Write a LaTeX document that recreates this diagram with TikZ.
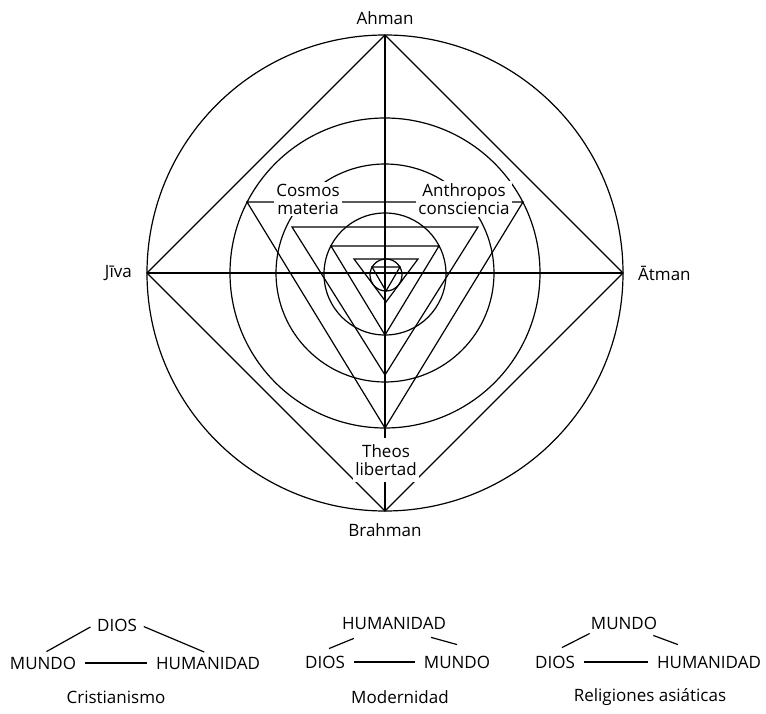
\documentclass[tikz,border=0pt]{standalone}
\usepackage{fontspec}
\setmainfont{Open Sans}
\usetikzlibrary{positioning}

\begin{document}
\begin{tikzpicture}[
  x=1pt, y=-1pt,
  geo/.style={line width=1.2pt},
  lbl/.style={font=\fontsize{17}{18}\selectfont, inner sep=2pt},
  inlbl/.style={lbl, fill=white, align=center},
  word/.style={lbl, inner sep=3pt},
  link/.style={line width=1.2pt, shorten >=4pt, shorten <=4pt},
  node distance=8pt
]
\useasboundingbox (0,0) rectangle (766,714);

% cardinal points
\coordinate (ahman) at (385,35);
\coordinate (brahman) at (385,511);
\coordinate (jiva) at (147,273);
\coordinate (atman) at (623,273);
\coordinate (o) at (385,273);

% circles
\draw[geo] (o) circle (238);
\draw[geo] (o) circle (155);
\draw[geo] (o) circle (109);
\draw[geo] (385,274) circle (61);
\draw[geo] (386,275) circle (16);

% cross and square
\draw[geo] (ahman) -- (brahman);
\draw[geo] (jiva) -- (atman);
\draw[geo] (ahman) -- (atman) -- (brahman) -- (jiva) -- cycle;

% nested triangles
\draw[geo] (247,202) -- (523,202) -- (385,428) -- cycle;
\draw[geo] (292,227) -- (478,227) -- (385,375) -- cycle;
\draw[geo] (331,246) -- (439,246) -- (385,335) -- cycle;
\draw[geo] (354,259) -- (418,259) -- (386,302) -- cycle;
\draw[geo] (372,267) -- (400,267) -- (386,291) -- cycle;

% outer labels
\node[lbl, above=8pt of ahman] (ahmanlbl) {Ahman};
\node[lbl, below=10pt of brahman] (brahmanlbl) {Brahman};
\node[lbl, left=13pt of jiva] (jivalbl) {Jīva};
\node[lbl, right=13pt of atman] (atmanlbl) {Ātman};

% inner labels
\node[inlbl] (cosmos) at (308,199) {Cosmos\\materia};
\node[inlbl] (anthropos) at (464,199) {Anthropos\\consciencia};
\node[inlbl, inner ysep=6pt] (theos) at (386,460) {Theos\\libertad};

% Cristianismo
\node[word] (dios1) at (117,625) {DIOS};
\node[word] (mundo1) at (43,663) {MUNDO};
\node[word] (huma1) at (208,663) {HUMANIDAD};
\draw[link] (dios1.west) -- (mundo1.north);
\draw[link] (dios1.east) -- (huma1.north);
\draw[link, shorten >=6pt, shorten <=6pt] (mundo1) -- (huma1);
\node[lbl] (crist) at (116,697) {Cristianismo};

% Modernidad
\node[word] (huma2) at (394,623) {HUMANIDAD};
\node[word] (dios2) at (325,662) {DIOS};
\node[word] (mundo2) at (457,662) {MUNDO};
\draw[geo] ([xshift=15pt,yshift=-6pt]huma2.south west) -- ([xshift=4pt,yshift=4pt]dios2.north);
\draw[geo] ([xshift=-18pt,yshift=-5pt]huma2.south east) -- ([yshift=8pt]mundo2.north);
\draw[link, shorten >=6pt, shorten <=6pt] (dios2) -- (mundo2);
\node[lbl] (modern) at (400,697) {Modernidad};

% Religiones asiaticas
\node[word] (mundo3) at (624,623) {MUNDO};
\node[word] (dios3) at (555,662) {DIOS};
\node[word] (huma3) at (709,662) {HUMANIDAD};
\draw[geo] ([xshift=2pt,yshift=-1pt]mundo3.south west) -- ([xshift=7pt,yshift=5pt]dios3.north);
\draw[geo] ([xshift=-7pt,yshift=-3pt]mundo3.south east) -- ([xshift=-31pt,yshift=8pt]huma3.north);
\draw[link, shorten >=6pt, shorten <=6pt] (dios3) -- (huma3);
\node[lbl] (asia) at (650,697) {Religiones asiáticas};
\end{tikzpicture}
\end{document}
